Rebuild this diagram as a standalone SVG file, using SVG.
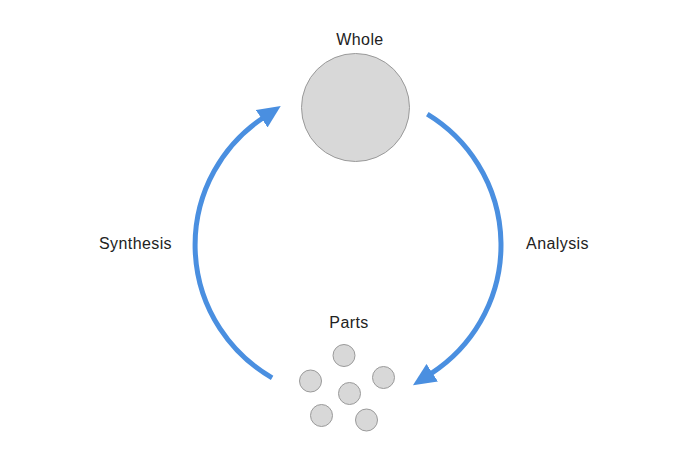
<svg xmlns="http://www.w3.org/2000/svg" width="700" height="450" viewBox="0 0 700 450">
<style>
.lbl{font-family:"Liberation Sans",Arial,sans-serif;font-size:16px;letter-spacing:0.4px;fill:#222;text-anchor:middle}
.ball{fill:#d8d8d8;stroke:#9a9a9a;stroke-width:1}
.arc{fill:none;stroke:#4a8fe0;stroke-width:5}
</style>
<defs>
<marker id="ah" markerUnits="userSpaceOnUse" markerWidth="24" markerHeight="22" refX="1" refY="10.5" orient="auto" viewBox="0 0 24 21">
<path d="M0,0 L23,10.5 L0,21 z" fill="#4a8fe0"/>
</marker>
</defs>
<rect width="700" height="450" fill="#fff"/>
<g id="connectors">
<path id="analysis-arc" class="arc" d="M427.3,114.2 A153,153 0 0 1 431.4,373.3" marker-end="url(#ah)"/>
<path id="synthesis-arc" class="arc" d="M272.1,377.8 A153,153 0 0 1 262.5,118.2" marker-end="url(#ah)"/>
</g>
<g id="whole">
<text class="lbl" x="360" y="45">Whole</text>
<circle class="ball" cx="355.5" cy="107.5" r="54"/>
</g>
<g id="parts">
<text class="lbl" x="349" y="328">Parts</text>
<circle class="ball" cx="344" cy="355.5" r="11"/>
<circle class="ball" cx="310.5" cy="381" r="11"/>
<circle class="ball" cx="383.5" cy="377.5" r="11"/>
<circle class="ball" cx="349.5" cy="393.5" r="11"/>
<circle class="ball" cx="321.5" cy="415.5" r="11"/>
<circle class="ball" cx="366.5" cy="420" r="11"/>
</g>
<g id="synthesis">
<text class="lbl" x="135.5" y="249">Synthesis</text>
</g>
<g id="analysis">
<text class="lbl" x="557.5" y="249">Analysis</text>
</g>
</svg>
